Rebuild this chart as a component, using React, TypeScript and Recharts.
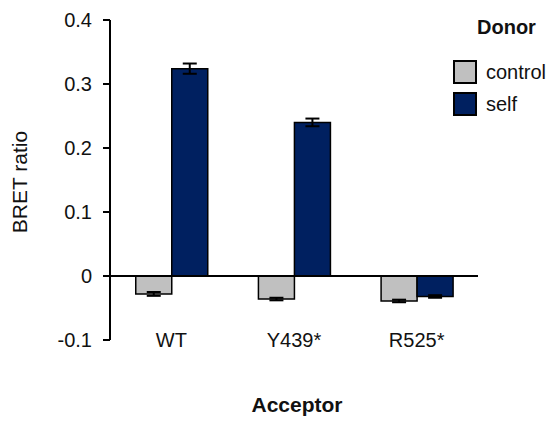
import React from 'react';
import { BarChart, Bar, XAxis, YAxis, ErrorBar, ReferenceLine, Label } from 'recharts';

const categories = ['WT', 'Y439*', 'R525*'];
const controlValues = [-0.028, -0.036, -0.039];
const controlErrors = [0.003, 0.002, 0.002];
const selfValues = [0.324, 0.24, -0.032];
const selfErrors = [0.008, 0.006, 0.002];
const yTicks = [-0.1, 0, 0.1, 0.2, 0.3, 0.4];
const seriesNames = ['control', 'self'];
const seriesColors = ['#c0c0c0', '#002060'];

const data = categories.map((c, i) => ({
  name: c,
  control: controlValues[i],
  controlErr: controlErrors[i],
  self: selfValues[i],
  selfErr: selfErrors[i],
}));

const FONT = '"Liberation Sans", Arial, sans-serif';
const FS = 20;

const XTick = (props: any) => {
  const { x, y, payload } = props;
  return (
    <text x={x} y={y} dy={7} textAnchor="middle" fontFamily={FONT} fontSize={FS} fill="#111">
      {payload.value}
    </text>
  );
};

export default function App() {
  return (
    <div style={{ position: 'absolute', left: 0, top: 0, width: 551, height: 421, background: '#fff', fontFamily: FONT }}>
      <BarChart
        width={551}
        height={421}
        data={data}
        margin={{ top: 20, right: 73, bottom: 51, left: 10 }}
        barCategoryGap="21%"
        barGap={0}
      >
        <XAxis
          dataKey="name"
          axisLine={false}
          tickLine={false}
          tickSize={0}
          tickMargin={0}
          height={30}
          tick={<XTick />}
          interval={0}
        >
          <Label
            content={(p: any) => {
              const vb = p.viewBox;
              return (
                <text x={vb.x + vb.width / 2 + 3} y={412} textAnchor="middle" fontFamily={FONT} fontSize={21} fontWeight="bold" fill="#111">
                  Acceptor
                </text>
              );
            }}
          />
        </XAxis>
        <YAxis
          domain={[-0.1, 0.4]}
          ticks={yTicks}
          width={100}
          axisLine={{ stroke: '#000', strokeWidth: 2 }}
          tickLine={{ stroke: '#000', strokeWidth: 2 }}
          tickSize={7}
          tickMargin={11}
          tick={{ fontFamily: FONT, fontSize: FS, fill: '#111' }}
          tickFormatter={(v: number) => (v === 0 ? '0' : v.toFixed(1))}
          allowDataOverflow
        >
          <Label
            content={(p: any) => {
              const vb = p.viewBox;
              const cx = 19;
              const cy = vb.y + vb.height / 2 + 2;
              return (
                <text x={cx} y={cy} transform={`rotate(-90 ${cx} ${cy})`} textAnchor="middle" dominantBaseline="central" fontFamily={FONT} fontSize={21} fill="#111">
                  BRET ratio
                </text>
              );
            }}
          />
        </YAxis>
        <ReferenceLine y={0} stroke="#000" strokeWidth={2} />
        <Bar dataKey="control" fill={seriesColors[0]} stroke="#000" strokeWidth={1.5} isAnimationActive={false}>
          <ErrorBar dataKey="controlErr" width={7} stroke="#000" strokeWidth={2} />
        </Bar>
        <Bar dataKey="self" fill={seriesColors[1]} stroke="#000" strokeWidth={1.5} isAnimationActive={false}>
          <ErrorBar dataKey="selfErr" width={7} stroke="#000" strokeWidth={2} />
        </Bar>
      </BarChart>
      <div style={{ position: 'absolute', left: 453, top: 14, width: 98 }}>
        <div style={{ fontWeight: 'bold', fontSize: FS, color: '#111', marginLeft: 24, lineHeight: '26px' }}>Donor</div>
        <div style={{ height: 16 }} />
        {seriesNames.map((n, i) => (
          <div key={n} style={{ display: 'flex', alignItems: 'center', height: 32 }}>
            <div style={{ width: 20, height: 20, background: seriesColors[i], border: '2px solid #000', boxSizing: 'content-box' }} />
            <span style={{ fontSize: FS, color: '#111', marginLeft: 9 }}>{n}</span>
          </div>
        ))}
      </div>
    </div>
  );
}
